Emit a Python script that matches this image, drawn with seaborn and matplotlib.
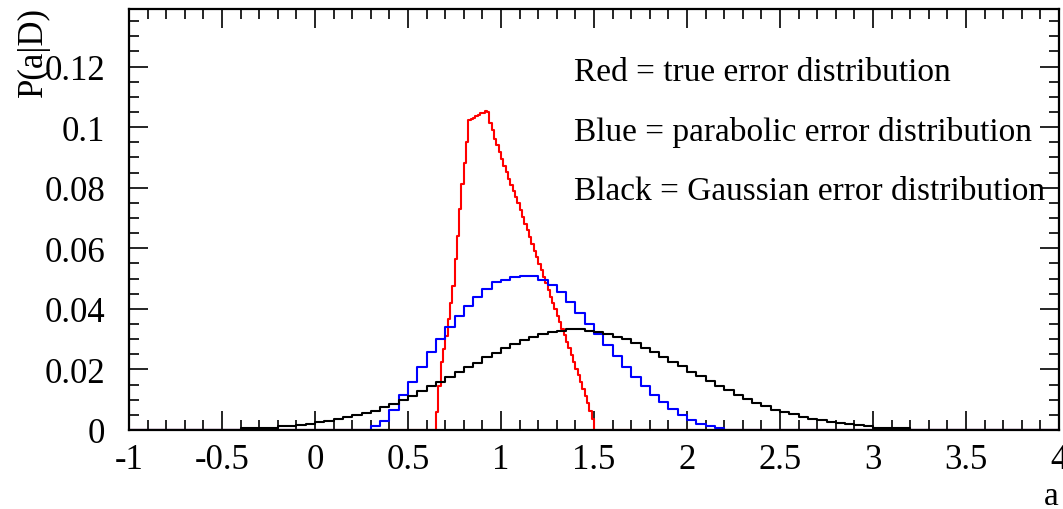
import numpy as np
import pandas as pd
import matplotlib
matplotlib.use("Agg")
import matplotlib.pyplot as plt
import seaborn as sns
from matplotlib.ticker import MultipleLocator, FormatStrFormatter

# ---------------- data ----------------
# Black: Gaussian error distribution, bins of width 0.05 starting at -0.40
gauss_start = -0.40
gauss_width = 0.05
gauss_vals = [
    0.0005, 0.0005, 0.0005, 0.0006, 0.0012, 0.0012, 0.0017, 0.0021,
    0.0027, 0.0030, 0.0036, 0.0042, 0.0048, 0.0056, 0.0064, 0.0075,
    0.0085, 0.0100, 0.0112, 0.0128, 0.0145, 0.0160, 0.0176, 0.0190,
    0.0207, 0.0222, 0.0240, 0.0254, 0.0270, 0.0284, 0.0298, 0.0307,
    0.0316, 0.0323, 0.0327, 0.0333, 0.0333, 0.0328, 0.0324, 0.0317,
    0.0308, 0.0299, 0.0286, 0.0272, 0.0256, 0.0242, 0.0225, 0.0210,
    0.0193, 0.0178, 0.0162, 0.0146, 0.0131, 0.0115, 0.0102, 0.0090,
    0.0078, 0.0066, 0.0060, 0.0052, 0.0044, 0.0037, 0.0033, 0.0028,
    0.0023, 0.0021, 0.0015, 0.0013, 0.0007, 0.0007, 0.0006, 0.0006,
]

# Blue: parabolic error distribution, bins of width 0.05 starting at 0.30
para_start = 0.30
para_width = 0.05
para_vals = [
    0.0014, 0.0031, 0.0066, 0.0115, 0.0160, 0.0207, 0.0256, 0.0300,
    0.0339, 0.0378, 0.0410, 0.0438, 0.0465, 0.0487, 0.0496, 0.0504,
    0.0507, 0.0507, 0.0495, 0.0478, 0.0455, 0.0422, 0.0385, 0.0350,
    0.0317, 0.0280, 0.0245, 0.0209, 0.0176, 0.0146, 0.0117, 0.0092,
    0.0069, 0.0050, 0.0034, 0.0021, 0.0014, 0.0008,
]

# Red: true error distribution, bins of width 0.0125 starting at 0.65
true_start = 0.65
true_width = 0.0125
true_vals = [
    0.0058, 0.0146, 0.0223, 0.0268, 0.0311, 0.0365, 0.0420, 0.0476,
    0.0564, 0.0641, 0.0729, 0.0812, 0.0880, 0.0950, 0.1022, 0.1026,
    0.1030, 0.1037, 0.1040, 0.1046, 0.1048, 0.1054, 0.1050, 0.1012,
    0.0990, 0.0962, 0.0940, 0.0918, 0.0895, 0.0872, 0.0852, 0.0830,
    0.0810, 0.0790, 0.0768, 0.0748, 0.0725, 0.0702, 0.0680, 0.0660,
    0.0638, 0.0615, 0.0592, 0.0570, 0.0548, 0.0527, 0.0505, 0.0485,
    0.0462, 0.0440, 0.0418, 0.0398, 0.0376, 0.0355, 0.0335, 0.0315,
    0.0292, 0.0270, 0.0248, 0.0226, 0.0202, 0.0180, 0.0158, 0.0135,
    0.0112, 0.0088, 0.0062, 0.0035,
]

x_range = (-1.0, 4.0)
y_max = 0.139

annotations = [
    "Red = true error distribution",
    "Blue = parabolic error distribution",
    "Black = Gaussian error distribution",
]
ann_y = [0.1155, 0.0957, 0.0762]
ann_x = 1.392

# ---------------- style ----------------
sns.set_theme(style="ticks")
plt.rcParams["font.family"] = ["Liberation Serif", "DejaVu Serif"]
plt.rcParams["axes.unicode_minus"] = False

fig = plt.figure(figsize=(10.63, 5.10), dpi=100)
ax = fig.add_axes([129 / 1063, 79 / 510, 930 / 1063, 421 / 510])


def draw_hist(start, width, vals, color):
    vals = np.asarray(vals, dtype=float)
    centers = start + width * (np.arange(len(vals)) + 0.5)
    df = pd.DataFrame({"a": centers, "w": vals})
    n_bins = int(round((x_range[1] - x_range[0]) / width))
    edges = np.linspace(x_range[0], x_range[1], n_bins + 1).tolist()
    sns.histplot(data=df, x="a", weights="w", bins=edges, element="step",
                 fill=False, color=color, linewidth=1.5, ax=ax, stat="count")


draw_hist(true_start, true_width, true_vals, "#ff0000")
draw_hist(para_start, para_width, para_vals, "#0000ff")
draw_hist(gauss_start, gauss_width, gauss_vals, "#000000")

ax.set_xlim(*x_range)
ax.set_ylim(0, y_max)
ax.set_xlabel("")
ax.set_ylabel("")

for sp in ax.spines.values():
    sp.set_visible(True)
    sp.set_linewidth(1.6)
    sp.set_color("black")
    sp.set_zorder(5)

ax.xaxis.set_major_locator(MultipleLocator(0.5))
ax.xaxis.set_minor_locator(MultipleLocator(0.1))
ax.yaxis.set_major_locator(MultipleLocator(0.02))
ax.yaxis.set_minor_locator(MultipleLocator(0.005))
ax.xaxis.set_major_formatter(FormatStrFormatter("%g"))
ax.yaxis.set_major_formatter(FormatStrFormatter("%g"))

ax.tick_params(which="both", direction="in", top=True, right=True,
               color="black", labelcolor="black")
ax.tick_params(which="major", length=13.5, width=1.2, labelsize=25)
ax.tick_params(which="minor", length=7, width=1.2)
ax.tick_params(axis="y", which="major", pad=17)
ax.tick_params(axis="x", which="major", pad=9.4)

# axis titles
ax.text(-0.103, 1.007, "P(a|D)", transform=ax.transAxes, rotation=90,
        ha="center", va="top", fontsize=25, color="black")
ax.text(1.0, -0.176, "a", transform=ax.transAxes, ha="right",
        va="baseline", fontsize=24, color="black")

for txt, yy in zip(annotations, ann_y):
    ax.text(ann_x, yy, txt, ha="left", va="baseline", fontsize=24,
            color="black")

fig.savefig("out.png", dpi=100, facecolor="white")
